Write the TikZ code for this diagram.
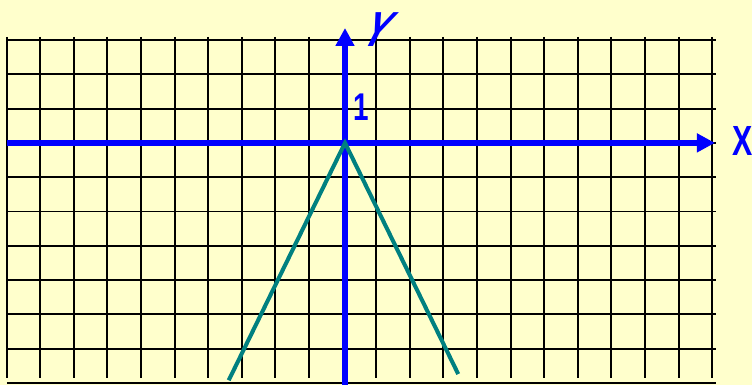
\documentclass[tikz,border=0pt]{standalone}
\usepackage{fontspec}
\setmainfont{Liberation Sans}
\newfontfamily\narrowfont[FakeStretch=0.72]{Liberation Sans}
\newfontfamily\slantfont[FakeSlant=0.5,FakeStretch=0.75]{Liberation Sans}
\usetikzlibrary{arrows.meta}
\definecolor{paper}{RGB}{255,255,204}
\definecolor{graphteal}{RGB}{0,128,128}

\tikzset{
    gridline/.style={black, line width=1.1pt},
    axis/.style={blue, line width=3.4pt, -{Triangle[length=0.36cm,width=0.36cm]}},
    axislabel/.style={blue, inner sep=0pt},
}

\begin{document}
\begin{tikzpicture}[x=0.672cm, y=0.686cm]
        % Background
        \fill[paper] (-10.268,-7.058) rectangle (12.113,4.166);
        \useasboundingbox (-10.268,-7.058) rectangle (12.113,4.166);

        % Grid
        \foreach \i in {-10,...,11}
            \draw[gridline] (\i-0.07,3.09) -- (\i-0.07,-6.85);
        \foreach \j in {-7,...,3}
            \draw[gridline] (-10.06,\j) -- (11.04,\j);

        % Axes
        \coordinate (O) at (0,0);
        \coordinate (xstart) at (-10.06,0);
        \coordinate (xend) at (11.01,0);
        \coordinate (ystart) at (0,-7.1);
        \coordinate (yend) at (0,3.35);
        \draw[axis] (xstart) -- (xend);
        \draw[axis] (ystart) -- (yend);

        % Graph y = -2|x|
        \coordinate (left) at (-3.46,-6.92);
        \coordinate (right) at (3.37,-6.74);
        \draw[graphteal, line width=2.3pt] (left) -- (O) -- (right);

        % Labels
        \node[axislabel, font=\fontsize{24}{24}\narrowfont\bfseries] (xlabel) at (11.82,0.06) {X};
        \node[axislabel, font=\fontsize{28}{28}\slantfont\bfseries] (ylabel) at (0.76,3.29) {Y};
        \node[axislabel, font=\fontsize{22}{22}\narrowfont\bfseries] (one) at (0.49,1.05) {1};
    \end{tikzpicture}
\end{document}
